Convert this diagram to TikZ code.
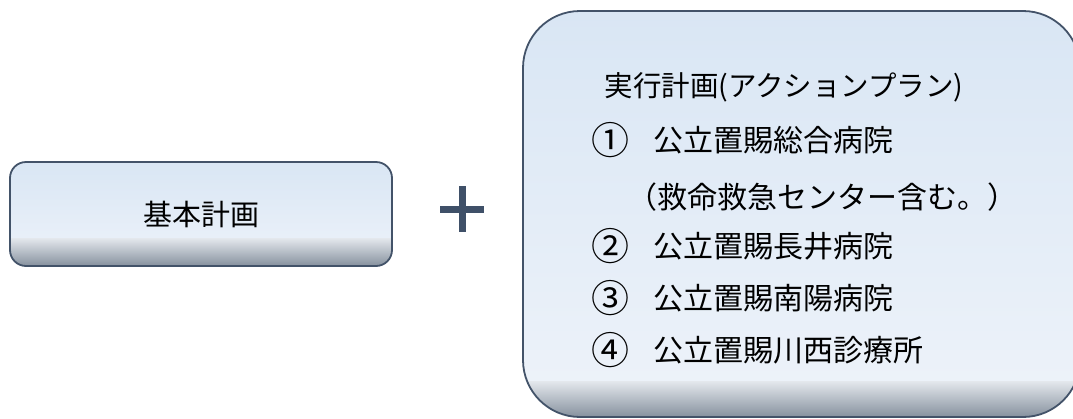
\documentclass[tikz,border=0pt]{standalone}
\usepackage{fontspec}
\newfontfamily\jp{Noto Sans CJK JP}
\definecolor{bordc}{HTML}{435369}
\definecolor{topc}{HTML}{D9E6F4}
\definecolor{midc}{HTML}{EEF3FA}
\definecolor{bandtop}{HTML}{E4E8ED}
\definecolor{bandbot}{HTML}{86919E}
\definecolor{plusc}{HTML}{3F5068}
\newcommand\circnum[1]{\makebox[62pt][l]{\raisebox{-3pt}{\fontsize{38}{40}\selectfont #1}}}
\begin{document}
\begin{tikzpicture}[x=1pt,y=1pt,
  panel/.style={draw=bordc, line width=1.8pt, inner sep=0pt},
  bandfill/.style={path picture={
    \fill[sharp corners, top color=topc, bottom color=midc] (path picture bounding box.north west) rectangle ([yshift=#1]path picture bounding box.south east);
    \fill[sharp corners, top color=bandtop, bottom color=bandbot] ([yshift=#1]path picture bounding box.south west) rectangle (path picture bounding box.south east);}},
  item/.style={font=\jp\fontsize{30}{36}\selectfont, anchor=base west, inner sep=0pt},
  plusbar/.style={draw=plusc, line width=7pt}]
\useasboundingbox (0,0) rectangle (1073,-418);
% left box
\node[panel, bandfill=28pt, rounded corners=16pt, minimum width=382pt, minimum height=104pt,
      font=\jp\fontsize{29}{34}\selectfont] (kihon) at (201,-214) {基本計画};
% right box
\node[panel, bandfill=36pt, rounded corners=57pt, minimum width=557pt, minimum height=406pt] (plan) at (801.5,-214) {};
% plus
\coordinate (pl) at (440,-209);
\coordinate (pr) at (484,-209);
\coordinate (pt) at (462,-186);
\coordinate (pb) at (462,-232);
\draw[plusbar] (pl) -- (pr);
\draw[plusbar] (pt) -- (pb);
% texts
\node[font=\jp\fontsize{28.5}{34}\selectfont, anchor=base, inner sep=0pt] (title) at (784,-96) {実行計画(アクションプラン)};
\node[item] (i1) at (591,-151) {\circnum{①}公立置賜総合病院};
\node[item] (i1b) at (627,-208) {（救命救急センター含む。）};
\node[item] (i2) at (591,-257) {\circnum{②}公立置賜長井病院};
\node[item] (i3) at (591,-309) {\circnum{③}公立置賜南陽病院};
\node[item] (i4) at (591,-361) {\circnum{④}公立置賜川西診療所};
\end{tikzpicture}
\end{document}
